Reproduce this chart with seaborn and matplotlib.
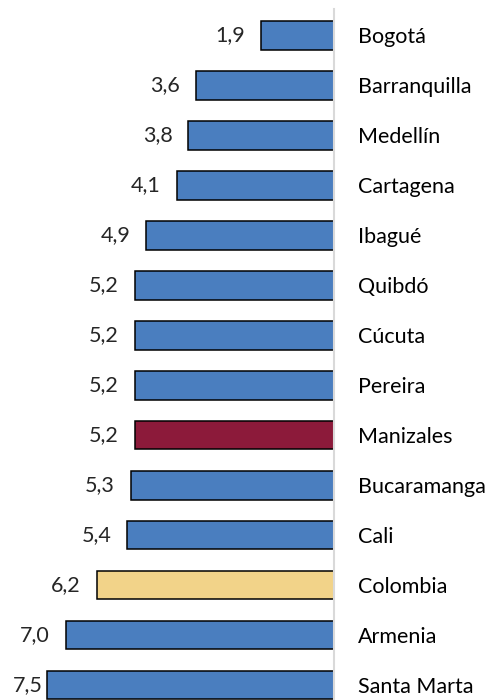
import seaborn as sns
import matplotlib.pyplot as plt

# Data
cities = ["Bogotá", "Barranquilla", "Medellín", "Cartagena", "Ibagué", "Quibdó",
          "Cúcuta", "Pereira", "Manizales", "Bucaramanga", "Cali", "Colombia",
          "Armenia", "Santa Marta"]
values = [1.9, 3.6, 3.8, 4.1, 4.9, 5.2, 5.2, 5.2, 5.2, 5.3, 5.4, 6.2, 7.0, 7.5]

BLUE = "#4A7EBF"
RED = "#8C1A3A"
YELLOW = "#F2D389"
highlight = {"Manizales": RED, "Colombia": YELLOW}
colors = [highlight.get(c, BLUE) for c in cities]

sns.set_style("white")
plt.rcParams["font.family"] = ["Lato", "DejaVu Sans"]
FS = 15.5

fig = plt.figure(figsize=(5.04, 7.0), dpi=100)
ax = fig.add_axes([0, 0, 334 / 504, 1])

sns.barplot(x=values, y=cities, hue=cities, palette=colors, legend=False,
            orient="h", width=0.58, edgecolor="black", linewidth=1.1,
            saturation=1, ax=ax)

xmax = 8.72
ax.set_xlim(xmax, 0)
ax.set_ylim(13.3, -0.7)

for s in ["top", "left", "bottom"]:
    ax.spines[s].set_visible(False)
ax.spines["right"].set_color("#d9d9d9")
ax.spines["right"].set_linewidth(1.5)
ax.spines["right"].set_bounds(13.3, -0.52)

ax.set_xticks([])
ax.yaxis.tick_right()
ax.tick_params(axis="y", length=0, pad=17, labelsize=FS, labelcolor="black")
ax.set_xlabel("")
ax.set_ylabel("")

# value labels to the left of each bar (pulled in when near the edge)
for i, v in enumerate(values):
    txt = f"{v:.1f}".replace(".", ",")
    gap = -16 if v < 7.2 else -4
    ax.annotate(txt, xy=(v, i), xytext=(gap, 0), textcoords="offset pixels",
                ha="right", va="center", fontsize=FS)

fig.savefig("out.png", dpi=100)
